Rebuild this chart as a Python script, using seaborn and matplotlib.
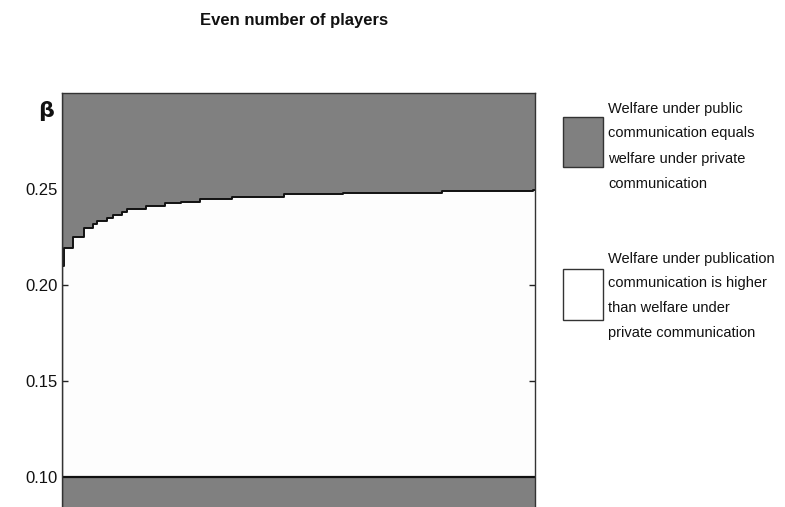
"""Welfare regions for an even number of players."""

import matplotlib

matplotlib.use("Agg")

import matplotlib.pyplot as plt
import seaborn as sns
from matplotlib.patches import Rectangle

# start of each step of the boundary (number of players) and its beta level
step_start = [4.0, 4.5, 6.3, 8.6, 10.3, 11.1, 13.1, 14.5, 16.2, 17.3, 21.2,
              24.9, 28.2, 32.0, 38.5, 49.1, 61.0, 81.1, 99.6]
beta_level = [0.2097, 0.2193, 0.2248, 0.2297, 0.2318, 0.2335, 0.2349, 0.2366,
              0.2383, 0.2396, 0.2413, 0.2427, 0.2435, 0.2448, 0.2461, 0.2473,
              0.2481, 0.2490, 0.2496]
n_max = 100
beta_top = 0.30
beta_floor = 0.10
beta_bottom = 0.08
y_ticks = [0.10, 0.15, 0.20, 0.25]
x_ticks = [20, 40, 60, 80]

legend_labels = [
    "Welfare under public\ncommunication equals\nwelfare under private\ncommunication",
    "Welfare under publication\ncommunication is higher\nthan welfare under\nprivate communication",
]

GRAY = "#808080"
INK = "#111111"
FONT = ["Liberation Sans Narrow", "Liberation Sans", "DejaVu Sans"]

sns.set_style("white")
plt.rcParams["font.family"] = FONT
plt.rcParams["text.color"] = INK
plt.rcParams["ytick.labelcolor"] = INK

W, H = 785, 507
fig = plt.figure(figsize=(W / 100, H / 100), dpi=100)
ax = fig.add_axes([61.7 / W, -0.0172, (535 - 61.7) / W, 0.8338])
ax.set_facecolor("#fdfdfd")

xs = step_start + [n_max]
ys = beta_level + [beta_level[-1]]
ax.fill_between(xs, ys, beta_top, step="post", color=GRAY, linewidth=0)
sns.lineplot(x=xs, y=ys, drawstyle="steps-post", color="#111111",
             linewidth=1.4, ax=ax)
ax.axvline(step_start[0], ymin=0, ymax=1, color="#333333", linewidth=1)

ax.fill_between([step_start[0], n_max], beta_bottom, beta_floor, color=GRAY,
                linewidth=0)
sns.lineplot(x=[step_start[0], n_max], y=[beta_floor, beta_floor],
             color="#111111", linewidth=1.6, ax=ax)

ax.set_xlim(step_start[0], n_max)
ax.set_ylim(beta_bottom, beta_top)
ax.set_xticks(x_ticks)
ax.set_xticklabels([])
ax.set_yticks(y_ticks)
ax.set_yticklabels([f"{v:.2f}" for v in y_ticks])
ax.tick_params(direction="in", length=4, width=1, color="#222222",
               top=True, right=True, bottom=True, left=True,
               labelsize=12, pad=3)
for spine in ax.spines.values():
    spine.set_color("#333333")
    spine.set_linewidth(1)
    spine.set_visible(True)

fig.text(294 / W, 1 - 20 / H, "Even number of players", ha="center",
         va="center", fontsize=12, fontweight="bold")
fig.text(46 / W, 1 - 111 / H, "β", ha="center", va="center", fontsize=16,
         fontweight="bold", family="DejaVu Sans")

# legend boxes with their wrapped labels
box_colors = [GRAY, "white"]
box_tops = [116.7, 269]
text_centers = [146, 296]
for color, top, center, label in zip(box_colors, box_tops, text_centers, legend_labels):
    fig.add_artist(Rectangle((563 / W, 1 - (top + 50.5) / H), 40 / W, 50.5 / H,
                             transform=fig.transFigure, facecolor=color,
                             edgecolor="#333333", linewidth=1))
    fig.text(608 / W, 1 - center / H, label, ha="left", va="center",
             fontsize=10.5, linespacing=2.0)

fig.savefig("out.png", dpi=100)
